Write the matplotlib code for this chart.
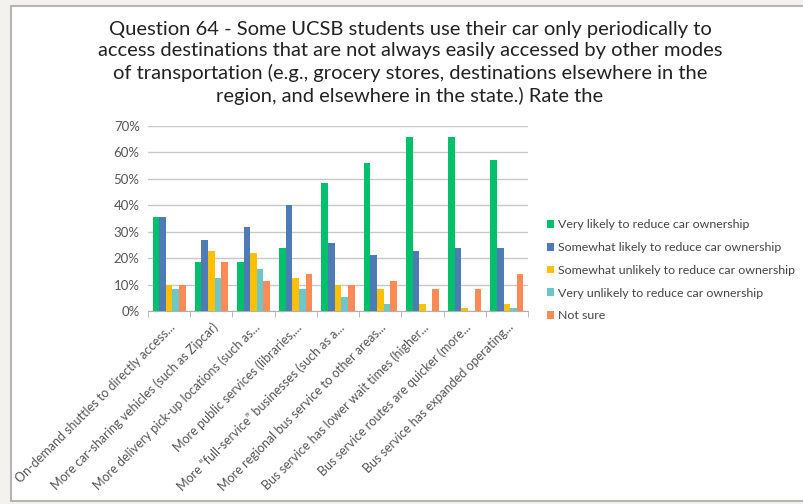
import numpy as np
import matplotlib
matplotlib.use("Agg")
import matplotlib.pyplot as plt
from matplotlib.patches import Rectangle

plt.rcParams['font.family'] = ['Lato', 'DejaVu Sans']

categories = [
    "On-demand shuttles to directly access...",
    "More car-sharing vehicles (such as Zipcar)",
    "More delivery pick-up locations (such as...",
    "More public services (libraries,...",
    "More \u201cfull-service\u201d businesses (such as a...",
    "More regional bus service to other areas...",
    "Bus service has lower wait times (higher...",
    "Bus service routes are quicker (more...",
    "Bus service has expanded operating...",
]
series_names = [
    "Very likely to reduce car ownership",
    "Somewhat likely to reduce car ownership",
    "Somewhat unlikely to reduce car ownership",
    "Very unlikely to reduce car ownership",
    "Not sure",
]
very_likely = [35.6, 18.5, 18.6, 24.0, 48.6, 55.9, 65.8, 65.8, 57.2]
somewhat_likely = [35.6, 27.0, 31.8, 40.0, 25.7, 21.3, 22.8, 24.0, 24.0]
somewhat_unlikely = [9.8, 22.8, 21.8, 12.6, 9.8, 8.4, 2.6, 1.3, 2.6]
very_unlikely = [8.3, 12.6, 15.8, 8.4, 5.3, 2.7, 0.0, 0.0, 1.3]
not_sure = [9.8, 18.5, 11.5, 14.1, 9.8, 11.3, 8.4, 8.4, 14.1]

colors = ["#00c06b", "#4e7ab5", "#ffc000", "#6cc7cb", "#ff8a55"]
title = ("Question 64 - Some UCSB students use their car only periodically to\n"
         "access destinations that are not always easily accessed by other modes\n"
         "of transportation (e.g., grocery stores, destinations elsewhere in the\n"
         "region, and elsewhere in the state.) Rate the")

fig = plt.figure(figsize=(8.04, 5.04), dpi=100)
fig.patch.set_facecolor("#f3f2ee")
# white panel with grey frame (right side runs off the image)
fig.add_artist(Rectangle((11 / 804, 3 / 504), 1.0, 1 - 9 / 504, transform=fig.transFigure,
                         facecolor="white", edgecolor="#b5b5b5", linewidth=1.5, zorder=0))

ax = fig.add_axes([148 / 804, 1 - 311 / 504, 380 / 804, 185 / 504])
ax.set_facecolor("none")

data = [very_likely, somewhat_likely, somewhat_unlikely, very_unlikely, not_sure]
x = np.arange(len(categories))
w = 0.157
for i, (vals, c, name) in enumerate(zip(data, colors, series_names)):
    ax.bar(x + (i - 2) * w, vals, width=w, color=c, label=name, zorder=3)

ax.set_xlim(-0.5, len(categories) - 0.5)
ax.set_ylim(0, 70)
ax.set_yticks(np.arange(0, 71, 10))
ax.set_yticklabels([f"{v}%" for v in range(0, 71, 10)], fontsize=9.5, color="#555555")
ax.yaxis.grid(True, color="#c8c8c8", linewidth=1, zorder=0)
ax.tick_params(axis="y", length=0, pad=6)
ax.set_xticks(np.arange(-0.5, len(categories), 1), minor=True)
ax.set_xticks(x)
ax.set_xticklabels(categories, rotation=45, ha="right", rotation_mode="anchor",
                   fontsize=9.0, color="#555555")
ax.tick_params(axis="x", which="major", length=0, pad=7)
ax.tick_params(axis="x", which="minor", length=4, color="#b0b0b0")
for s in ["top", "right", "left"]:
    ax.spines[s].set_visible(False)
ax.spines["bottom"].set_color("#b0b0b0")

fig.text(0.51, 1 - 21 / 504, title, ha="center", va="top", fontsize=14.5,
         color="#222222", linespacing=1.32)

ax.legend(loc="center left", bbox_to_anchor=(1.02, 0.22), frameon=False, fontsize=8.9,
          handlelength=0.6, handleheight=0.6, handletextpad=0.3, labelspacing=0.95,
          labelcolor="#444444")

fig.savefig("out.png", dpi=100, facecolor=fig.get_facecolor())
